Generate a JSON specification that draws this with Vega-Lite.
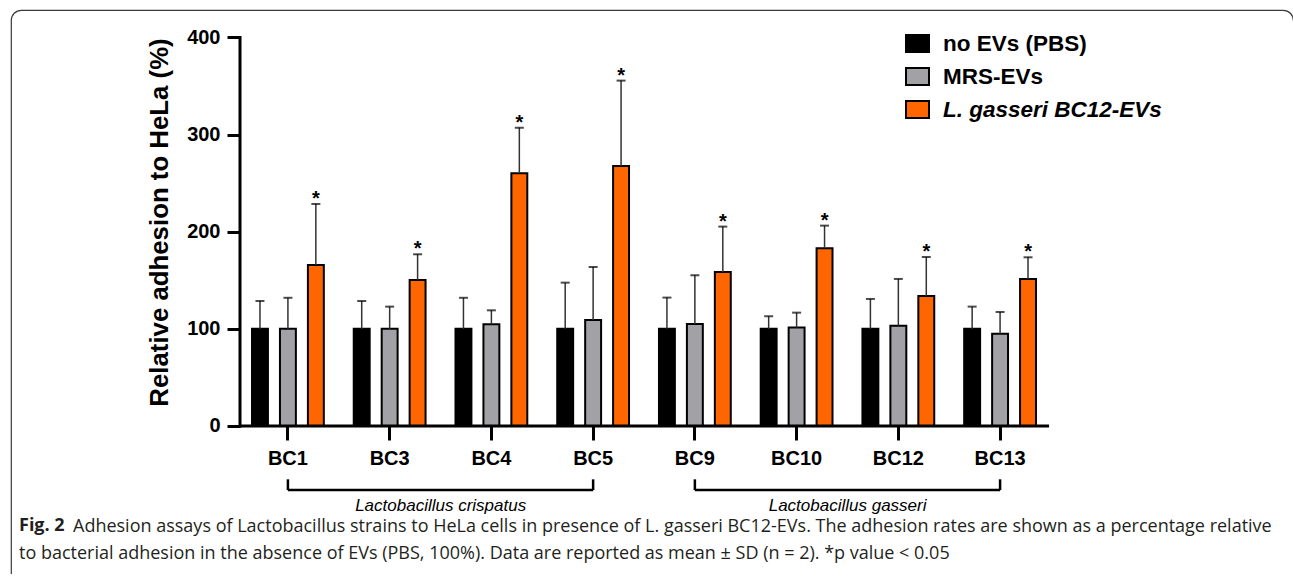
{
  "$schema": "https://vega.github.io/schema/vega-lite/v6.json",
  "width": 1282,
  "height": 574,
  "autosize": {"type": "none"},
  "padding": {"left": 11, "top": 10, "right": 0, "bottom": 0},
  "background": "white",
  "config": {
    "view": {"stroke": "#3a3a3a", "strokeWidth": 1.2, "cornerRadius": 10, "strokeDash": [1277.7, 1847.4, 575, 4000]},
    "font": "Liberation Sans",
    "axis": {"grid": false, "domain": false, "labelFont": "Liberation Sans", "labelFontWeight": "bold", "labelColor": "black", "tickColor": "black"}
  },
  "title": {
    "text": "Fig. 2",
    "subtitle": [
      "\u200b\u2003\u2003\u2003Adhesion assays of Lactobacillus strains to HeLa cells in presence of L. gasseri BC12-EVs. The adhesion rates are shown as a percentage relative",
      "to bacterial adhesion in the absence of EVs (PBS, 100%). Data are reported as mean ± SD (n = 2). *p value < 0.05"
    ],
    "orient": "bottom",
    "anchor": "start",
    "frame": "group",
    "dx": 8,
    "dy": -71,
    "font": "Open Sans",
    "fontSize": 18,
    "fontWeight": "bold",
    "color": "#231f20",
    "subtitleFont": "Open Sans",
    "subtitleFontSize": 18,
    "subtitleColor": "#231f20",
    "subtitlePadding": -17,
    "subtitleLineHeight": 27
  },
  "datasets": {
    "bars": [
      {"strain": "BC1", "cond": "no EVs (PBS)", "mean": 100, "hi": 128.7, "sig": ""},
      {"strain": "BC1", "cond": "MRS-EVs", "mean": 100, "hi": 132, "sig": ""},
      {"strain": "BC1", "cond": "L. gasseri BC12-EVs", "mean": 165.8, "hi": 228.6, "sig": "*"},
      {"strain": "BC3", "cond": "no EVs (PBS)", "mean": 100, "hi": 128.7, "sig": ""},
      {"strain": "BC3", "cond": "MRS-EVs", "mean": 100, "hi": 122.9, "sig": ""},
      {"strain": "BC3", "cond": "L. gasseri BC12-EVs", "mean": 150.4, "hi": 176.8, "sig": "*"},
      {"strain": "BC4", "cond": "no EVs (PBS)", "mean": 100, "hi": 132, "sig": ""},
      {"strain": "BC4", "cond": "MRS-EVs", "mean": 104.7, "hi": 119.1, "sig": ""},
      {"strain": "BC4", "cond": "L. gasseri BC12-EVs", "mean": 260.2, "hi": 307.2, "sig": "*"},
      {"strain": "BC5", "cond": "no EVs (PBS)", "mean": 100, "hi": 147.6, "sig": ""},
      {"strain": "BC5", "cond": "MRS-EVs", "mean": 109.2, "hi": 163.7, "sig": ""},
      {"strain": "BC5", "cond": "L. gasseri BC12-EVs", "mean": 267.8, "hi": 355.6, "sig": "*"},
      {"strain": "BC9", "cond": "no EVs (PBS)", "mean": 100, "hi": 132.2, "sig": ""},
      {"strain": "BC9", "cond": "MRS-EVs", "mean": 105, "hi": 155.2, "sig": ""},
      {"strain": "BC9", "cond": "L. gasseri BC12-EVs", "mean": 158.6, "hi": 205.3, "sig": "*"},
      {"strain": "BC10", "cond": "no EVs (PBS)", "mean": 100, "hi": 113, "sig": ""},
      {"strain": "BC10", "cond": "MRS-EVs", "mean": 101.3, "hi": 116.7, "sig": ""},
      {"strain": "BC10", "cond": "L. gasseri BC12-EVs", "mean": 183, "hi": 206.3, "sig": "*"},
      {"strain": "BC12", "cond": "no EVs (PBS)", "mean": 100, "hi": 130.8, "sig": ""},
      {"strain": "BC12", "cond": "MRS-EVs", "mean": 103.3, "hi": 151.4, "sig": ""},
      {"strain": "BC12", "cond": "L. gasseri BC12-EVs", "mean": 133.9, "hi": 174, "sig": "*"},
      {"strain": "BC13", "cond": "no EVs (PBS)", "mean": 100, "hi": 122.9, "sig": ""},
      {"strain": "BC13", "cond": "MRS-EVs", "mean": 95, "hi": 117.4, "sig": ""},
      {"strain": "BC13", "cond": "L. gasseri BC12-EVs", "mean": 151.4, "hi": 173.7, "sig": "*"}
    ],
    "groups": [
      {"species": "Lactobacillus crispatus", "from": "BC1", "to": "BC5", "mid": "BC3"},
      {"species": "Lactobacillus gasseri", "from": "BC9", "to": "BC13", "mid": "BC10"}
    ]
  },
  "layer": [
    {
      "data": {"name": "bars"},
      "mark": {"type": "bar", "stroke": "black", "strokeWidth": 2},
      "encoding": {
        "x": {
          "field": "strain", "type": "nominal",
          "scale": {"domain": ["BC1", "BC3", "BC4", "BC5", "BC9", "BC10", "BC12", "BC13"], "range": [229, 1037], "paddingInner": 0.058, "paddingOuter": 0, "round": false},
          "axis": {"title": null, "orient": "bottom", "offset": -158, "tickSize": 14, "tickWidth": 3, "labelFontSize": 20, "labelPadding": 8, "labelAngle": 0}
        },
        "xOffset": {
          "field": "cond", "type": "nominal",
          "scale": {"domain": ["no EVs (PBS)", "MRS-EVs", "L. gasseri BC12-EVs"], "paddingInner": 0.43, "paddingOuter": 0.43}
        },
        "y": {
          "field": "mean", "type": "quantitative",
          "scale": {"domain": [-162.68, 428.31], "nice": false, "zero": false},
          "axis": {"title": "Relative adhesion to HeLa (%)", "values": [0, 100, 200, 300, 400], "offset": -229, "tickSize": 13, "tickWidth": 3, "labelFontSize": 20, "labelPadding": 7, "titleFont": "Liberation Sans", "titleFontSize": 25.8, "titleFontWeight": "bold", "titleColor": "black", "titleY": 212, "titlePadding": 14}
        },
        "y2": {"datum": 0},
        "fill": {
          "field": "cond", "type": "nominal",
          "scale": {"domain": ["no EVs (PBS)", "MRS-EVs", "L. gasseri BC12-EVs"], "range": ["#000000", "#a2a1a6", "#ff6600"]},
          "legend": {
            "title": null, "orient": "none", "legendX": 894, "legendY": 21, "padding": 0,
            "symbolType": "M-1,-0.74L1,-0.74L1,0.74L-1,0.74Z", "symbolSize": 529,
            "symbolStrokeColor": "black", "symbolStrokeWidth": 2, "symbolOpacity": 1,
            "labelFont": "Liberation Sans", "labelFontSize": 22.5, "labelFontWeight": "bold", "labelColor": "black",
            "labelOffset": 13, "rowPadding": 6, "labelLimit": 400,
            "encode": {"labels": {"update": {"fontStyle": {"signal": "datum.label === 'L. gasseri BC12-EVs' ? 'italic' : 'normal'"}}}}
          }
        }
      }
    },
    {
      "data": {"name": "bars"},
      "mark": {"type": "rule", "color": "#333333", "strokeWidth": 1.5},
      "encoding": {
        "x": {"field": "strain", "type": "nominal"},
        "xOffset": {"field": "cond", "type": "nominal"},
        "y": {"field": "mean", "type": "quantitative"},
        "y2": {"field": "hi"}
      }
    },
    {
      "data": {"name": "bars"},
      "mark": {"type": "tick", "color": "black", "size": 9, "thickness": 2},
      "encoding": {
        "x": {"field": "strain", "type": "nominal"},
        "xOffset": {"field": "cond", "type": "nominal"},
        "y": {"field": "hi", "type": "quantitative"}
      }
    },
    {
      "data": {"name": "bars"},
      "mark": {"type": "text", "fontSize": 20, "fontWeight": "bold", "color": "black", "baseline": "alphabetic", "dy": 1},
      "encoding": {
        "x": {"field": "strain", "type": "nominal"},
        "xOffset": {"field": "cond", "type": "nominal"},
        "y": {"field": "hi", "type": "quantitative"},
        "text": {"field": "sig"}
      }
    },
    {
      "data": {"values": [{}]},
      "mark": {"type": "rule", "color": "black", "strokeWidth": 3, "strokeCap": "square"},
      "encoding": {
        "x": {"datum": "BC1", "bandPosition": 0},
        "y": {"datum": 0},
        "y2": {"datum": 400}
      }
    },
    {
      "data": {"values": [{}]},
      "mark": {"type": "rule", "color": "black", "strokeWidth": 3, "x2Offset": 49},
      "encoding": {
        "x": {"datum": "BC1", "bandPosition": 0},
        "x2": {"datum": "BC13"},
        "y": {"datum": 0}
      }
    },
    {
      "data": {"name": "groups"},
      "mark": {"type": "rule", "color": "black", "strokeWidth": 2.5},
      "encoding": {
        "x": {"field": "from", "type": "nominal"},
        "x2": {"field": "to"},
        "y": {"datum": -66}
      }
    },
    {
      "data": {"name": "groups"},
      "transform": [{"fold": ["from", "to"], "as": ["end", "pos"]}],
      "mark": {"type": "rule", "color": "black", "strokeWidth": 2.5},
      "encoding": {
        "x": {"field": "pos", "type": "nominal"},
        "y": {"datum": -54.9},
        "y2": {"datum": -66}
      }
    },
    {
      "data": {"name": "groups"},
      "mark": {"type": "text", "fontSize": 17, "fontStyle": "italic", "color": "black", "baseline": "middle", "dx": 51, "font": "Liberation Sans"},
      "encoding": {
        "x": {"field": "mid", "type": "nominal"},
        "y": {"datum": -82.5},
        "text": {"field": "species"}
      }
    }
  ]
}
